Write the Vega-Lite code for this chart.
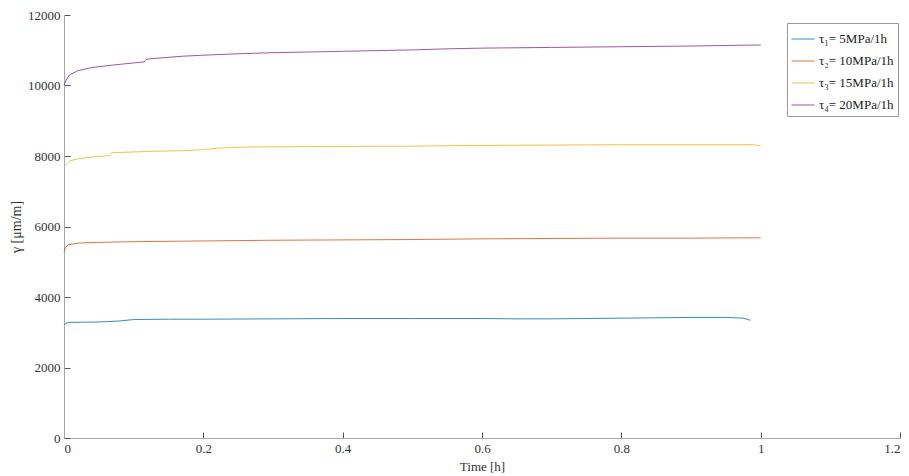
{
  "$schema": "https://vega.github.io/schema/vega-lite/v6.json",
  "autosize": {"type": "none"},
  "padding": {"left": 64, "top": 15, "right": 9, "bottom": 38},
  "width": 836,
  "height": 423,
  "background": "white",
  "config": {
    "view": {"stroke": null},
    "font": "Liberation Serif",
    "axis": {
      "domainColor": "#a6a6a6",
      "tickColor": "#555555",
      "labelColor": "#333333",
      "titleColor": "#333333",
      "labelFont": "Liberation Serif",
      "titleFont": "Liberation Serif",
      "labelFontSize": 13,
      "titleFontSize": 13,
      "titleFontWeight": "normal",
      "grid": false,
      "tickSize": -6
    }
  },
  "data": {
    "values": [
      {"s": "τ₁= 5MPa/1h", "t": 0, "v": 3200},
      {"s": "τ₁= 5MPa/1h", "t": 0.003, "v": 3260},
      {"s": "τ₁= 5MPa/1h", "t": 0.01, "v": 3280},
      {"s": "τ₁= 5MPa/1h", "t": 0.05, "v": 3290},
      {"s": "τ₁= 5MPa/1h", "t": 0.08, "v": 3320},
      {"s": "τ₁= 5MPa/1h", "t": 0.1, "v": 3360},
      {"s": "τ₁= 5MPa/1h", "t": 0.15, "v": 3370},
      {"s": "τ₁= 5MPa/1h", "t": 0.2, "v": 3370},
      {"s": "τ₁= 5MPa/1h", "t": 0.3, "v": 3380},
      {"s": "τ₁= 5MPa/1h", "t": 0.4, "v": 3390},
      {"s": "τ₁= 5MPa/1h", "t": 0.5, "v": 3390},
      {"s": "τ₁= 5MPa/1h", "t": 0.6, "v": 3390},
      {"s": "τ₁= 5MPa/1h", "t": 0.65, "v": 3380},
      {"s": "τ₁= 5MPa/1h", "t": 0.7, "v": 3380},
      {"s": "τ₁= 5MPa/1h", "t": 0.8, "v": 3400},
      {"s": "τ₁= 5MPa/1h", "t": 0.9, "v": 3420},
      {"s": "τ₁= 5MPa/1h", "t": 0.95, "v": 3420},
      {"s": "τ₁= 5MPa/1h", "t": 0.975, "v": 3400},
      {"s": "τ₁= 5MPa/1h", "t": 0.985, "v": 3340},
      {"s": "τ₂= 10MPa/1h", "t": 0, "v": 5280},
      {"s": "τ₂= 10MPa/1h", "t": 0.002, "v": 5400},
      {"s": "τ₂= 10MPa/1h", "t": 0.006, "v": 5480},
      {"s": "τ₂= 10MPa/1h", "t": 0.02, "v": 5530},
      {"s": "τ₂= 10MPa/1h", "t": 0.05, "v": 5550},
      {"s": "τ₂= 10MPa/1h", "t": 0.1, "v": 5570},
      {"s": "τ₂= 10MPa/1h", "t": 0.2, "v": 5590},
      {"s": "τ₂= 10MPa/1h", "t": 0.3, "v": 5610},
      {"s": "τ₂= 10MPa/1h", "t": 0.4, "v": 5620},
      {"s": "τ₂= 10MPa/1h", "t": 0.5, "v": 5630},
      {"s": "τ₂= 10MPa/1h", "t": 0.6, "v": 5650},
      {"s": "τ₂= 10MPa/1h", "t": 0.7, "v": 5660},
      {"s": "τ₂= 10MPa/1h", "t": 0.8, "v": 5670},
      {"s": "τ₂= 10MPa/1h", "t": 0.9, "v": 5670},
      {"s": "τ₂= 10MPa/1h", "t": 1.0, "v": 5680},
      {"s": "τ₃= 15MPa/1h", "t": 0, "v": 7680},
      {"s": "τ₃= 15MPa/1h", "t": 0.003, "v": 7760},
      {"s": "τ₃= 15MPa/1h", "t": 0.008, "v": 7860},
      {"s": "τ₃= 15MPa/1h", "t": 0.02, "v": 7920},
      {"s": "τ₃= 15MPa/1h", "t": 0.04, "v": 7970},
      {"s": "τ₃= 15MPa/1h", "t": 0.065, "v": 8010},
      {"s": "τ₃= 15MPa/1h", "t": 0.068, "v": 8090},
      {"s": "τ₃= 15MPa/1h", "t": 0.08, "v": 8100},
      {"s": "τ₃= 15MPa/1h", "t": 0.12, "v": 8130},
      {"s": "τ₃= 15MPa/1h", "t": 0.17, "v": 8150},
      {"s": "τ₃= 15MPa/1h", "t": 0.2, "v": 8180},
      {"s": "τ₃= 15MPa/1h", "t": 0.22, "v": 8220},
      {"s": "τ₃= 15MPa/1h", "t": 0.25, "v": 8250},
      {"s": "τ₃= 15MPa/1h", "t": 0.3, "v": 8260},
      {"s": "τ₃= 15MPa/1h", "t": 0.4, "v": 8270},
      {"s": "τ₃= 15MPa/1h", "t": 0.5, "v": 8280},
      {"s": "τ₃= 15MPa/1h", "t": 0.6, "v": 8300},
      {"s": "τ₃= 15MPa/1h", "t": 0.7, "v": 8310},
      {"s": "τ₃= 15MPa/1h", "t": 0.8, "v": 8320},
      {"s": "τ₃= 15MPa/1h", "t": 0.9, "v": 8320},
      {"s": "τ₃= 15MPa/1h", "t": 0.99, "v": 8320},
      {"s": "τ₃= 15MPa/1h", "t": 1.0, "v": 8280},
      {"s": "τ₄= 20MPa/1h", "t": 0, "v": 10000},
      {"s": "τ₄= 20MPa/1h", "t": 0.003, "v": 10150},
      {"s": "τ₄= 20MPa/1h", "t": 0.008, "v": 10300},
      {"s": "τ₄= 20MPa/1h", "t": 0.02, "v": 10420},
      {"s": "τ₄= 20MPa/1h", "t": 0.04, "v": 10510},
      {"s": "τ₄= 20MPa/1h", "t": 0.07, "v": 10580},
      {"s": "τ₄= 20MPa/1h", "t": 0.1, "v": 10640},
      {"s": "τ₄= 20MPa/1h", "t": 0.115, "v": 10670},
      {"s": "τ₄= 20MPa/1h", "t": 0.118, "v": 10740},
      {"s": "τ₄= 20MPa/1h", "t": 0.125, "v": 10760},
      {"s": "τ₄= 20MPa/1h", "t": 0.17, "v": 10830},
      {"s": "τ₄= 20MPa/1h", "t": 0.2, "v": 10860},
      {"s": "τ₄= 20MPa/1h", "t": 0.25, "v": 10900},
      {"s": "τ₄= 20MPa/1h", "t": 0.3, "v": 10930},
      {"s": "τ₄= 20MPa/1h", "t": 0.35, "v": 10950},
      {"s": "τ₄= 20MPa/1h", "t": 0.4, "v": 10970},
      {"s": "τ₄= 20MPa/1h", "t": 0.45, "v": 10990},
      {"s": "τ₄= 20MPa/1h", "t": 0.5, "v": 11010},
      {"s": "τ₄= 20MPa/1h", "t": 0.55, "v": 11040},
      {"s": "τ₄= 20MPa/1h", "t": 0.6, "v": 11060},
      {"s": "τ₄= 20MPa/1h", "t": 0.65, "v": 11070},
      {"s": "τ₄= 20MPa/1h", "t": 0.7, "v": 11080},
      {"s": "τ₄= 20MPa/1h", "t": 0.8, "v": 11100},
      {"s": "τ₄= 20MPa/1h", "t": 0.9, "v": 11120},
      {"s": "τ₄= 20MPa/1h", "t": 1.0, "v": 11150}
    ]
  },
  "mark": {"type": "line", "strokeWidth": 1, "opacity": 0.8},
  "encoding": {
    "x": {
      "field": "t", "type": "quantitative",
      "scale": {"domain": [0, 1.2], "nice": false, "zero": false},
      "axis": {"values": [0, 0.2, 0.4, 0.6, 0.8, 1, 1.2], "format": "~g", "title": "Time [h]", "labelPadding": 10, "titlePadding": 5}
    },
    "y": {
      "field": "v", "type": "quantitative",
      "scale": {"domain": [0, 12000], "nice": false},
      "axis": {"values": [0, 2000, 4000, 6000, 8000, 10000, 12000], "format": "d", "title": "γ [μm/m]", "labelPadding": 10, "titlePadding": 4, "titleFontSize": 14}
    },
    "color": {
      "field": "s", "type": "nominal",
      "scale": {
        "domain": ["τ₁= 5MPa/1h", "τ₂= 10MPa/1h", "τ₃= 15MPa/1h", "τ₄= 20MPa/1h"],
        "range": ["#0072BD", "#D95319", "#EDB120", "#7E2F8E"]
      },
      "legend": {
        "title": null,
        "orient": "none",
        "legendX": 723,
        "legendY": 8,
        "symbolType": "stroke",
        "symbolSize": 529,
        "symbolStrokeWidth": 1,
        "labelFont": "Liberation Serif",
        "labelFontSize": 13,
        "labelColor": "#222222",
        "fillColor": "white",
        "strokeColor": "#999999",
        "padding": 4,
        "rowPadding": 3,
        "labelOffset": 4
      }
    }
  }
}
